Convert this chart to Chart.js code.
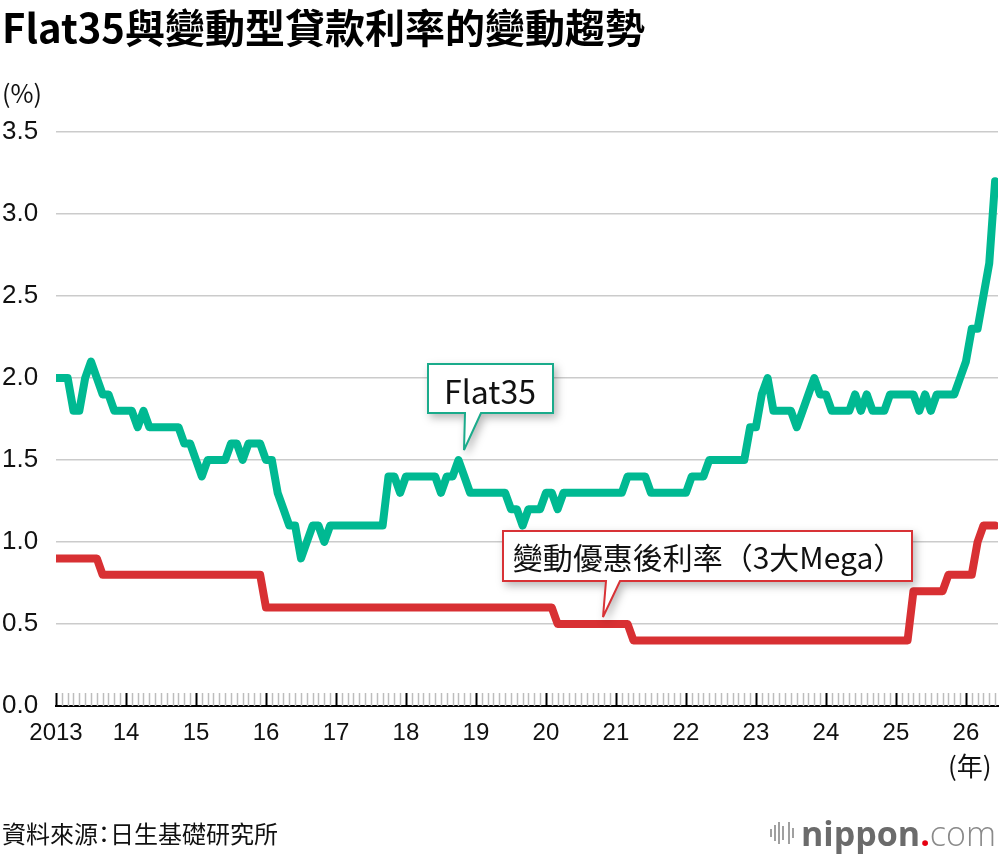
<!DOCTYPE html>
<html lang="zh-Hant">
<head>
<meta charset="UTF-8">
<title>Flat35與變動型貸款利率的變動趨勢</title>
<style>
  body { margin: 0; background: #fff; }
  #wrap { position: relative; width: 1000px; height: 856px; background: #fff; overflow: hidden; }
  #chart { position: absolute; left: 0; top: 0; }
  .txt { position: absolute; white-space: nowrap; color: #111; font-family: "Noto Sans CJK TC", "Noto Sans", sans-serif; line-height: 1; }
  .title { left: 2px; top: 6px; font-size: 40px; font-weight: 700; color: #000; }
  .unit { left: 2px; top: 80px; font-size: 25px; }
  .nen { left: 948px; top: 752px; font-size: 26px; }
  .source { left: 2px; top: 821px; font-size: 24px; font-feature-settings: "palt"; }
  .callout { position: absolute; left: 0; top: 0; filter: drop-shadow(3px 4px 4px rgba(0,0,0,0.28)); }
  .lab { position: absolute; white-space: nowrap; font-family: "Noto Sans CJK TC", "Noto Sans", sans-serif; color: #111; line-height: 1; transform: translate(-50%, -50%); }
  .logo { position: absolute; left: 768px; top: 814px; height: 38px; display: flex; align-items: center; }
  .logo span { font-family: "Open Sans", "Noto Sans", sans-serif; font-size: 34px; line-height: 1; }
</style>
</head>
<body>
<div id="wrap">
  <canvas id="chart" width="1000" height="856"></canvas>
  <div class="txt title">Flat35與變動型貸款利率的變動趨勢</div>
  <div class="txt unit">(%)</div>
  <div class="txt nen">(年)</div>

  <svg class="callout" width="1000" height="856">
    <path d="M428,364 H553 V413 H481 L464,450 L465,413 H428 Z" fill="#fff" stroke="#1aab8b" stroke-width="2"/>
    <path d="M503,531 H912 V581 H620 L603,617 L606,581 H503 Z" fill="#fff" stroke="#d83236" stroke-width="2"/>
  </svg>
  <div class="lab" style="left:490px; top:390px; font-size:32px;">Flat35</div>
  <div class="lab" style="left:708px; top:556px; font-size:30px;">變動優惠後利率（3大Mega）</div>

  <div class="txt source">資料來源：日生基礎研究所</div>
  <div class="logo">
    <svg width="30" height="28" style="margin-right:3px">
      <g fill="#a0a0a0">
        <rect x="2" y="10" width="2" height="8"/>
        <rect x="6" y="6" width="2" height="16"/>
        <rect x="10" y="3" width="2" height="22"/>
        <rect x="14" y="7" width="2" height="14"/>
        <rect x="20" y="3" width="2" height="22"/>
        <rect x="24" y="9" width="2" height="10"/>
      </g>
    </svg>
    <span style="font-weight:700; color:#6b6b6b;">nippon</span><span style="font-weight:700; color:#e60012;">.</span><span style="font-weight:300; color:#8a8a8a;">com</span>
  </div>
</div>

<script src="https://cdn.jsdelivr.net/npm/chart.js@4.4.1/dist/chart.umd.min.js"></script>
<script>
  // 年份刻度 (每12個月一格)
  const yearLabels = ['2013', '14', '15', '16', '17', '18', '19', '20', '21', '22', '23', '24', '25', '26'];

  // Flat35 月次 2013/1 ~ 2026/6
  const flat35 = [
    2.0, 2.0, 2.0, 1.8, 1.8, 2.0, 2.1, 2.0, 1.9, 1.9, 1.8, 1.8, // 2013
    1.8, 1.8, 1.7, 1.8, 1.7, 1.7, 1.7, 1.7, 1.7, 1.7, 1.6, 1.6, // 2014
    1.5, 1.4, 1.5, 1.5, 1.5, 1.5, 1.6, 1.6, 1.5, 1.6, 1.6, 1.6, // 2015
    1.5, 1.5, 1.3, 1.2, 1.1, 1.1, 0.9, 1.0, 1.1, 1.1, 1.0, 1.1, // 2016
    1.1, 1.1, 1.1, 1.1, 1.1, 1.1, 1.1, 1.1, 1.1, 1.4, 1.4, 1.3, // 2017
    1.4, 1.4, 1.4, 1.4, 1.4, 1.4, 1.3, 1.4, 1.4, 1.5, 1.4, 1.3, // 2018
    1.3, 1.3, 1.3, 1.3, 1.3, 1.3, 1.2, 1.2, 1.1, 1.2, 1.2, 1.2, // 2019
    1.3, 1.3, 1.2, 1.3, 1.3, 1.3, 1.3, 1.3, 1.3, 1.3, 1.3, 1.3, // 2020
    1.3, 1.3, 1.4, 1.4, 1.4, 1.4, 1.3, 1.3, 1.3, 1.3, 1.3, 1.3, // 2021
    1.3, 1.4, 1.4, 1.4, 1.5, 1.5, 1.5, 1.5, 1.5, 1.5, 1.5, 1.7, // 2022
    1.7, 1.9, 2.0, 1.8, 1.8, 1.8, 1.8, 1.7, 1.8, 1.9, 2.0, 1.9, // 2023
    1.9, 1.8, 1.8, 1.8, 1.8, 1.9, 1.8, 1.9, 1.8, 1.8, 1.8, 1.9, // 2024
    1.9, 1.9, 1.9, 1.9, 1.8, 1.9, 1.8, 1.9, 1.9, 1.9, 1.9, 2.0, // 2025
    2.1, 2.3, 2.3, 2.5, 2.7, 3.2                                // 2026
  ];

  // 變動優惠後利率 (3大Mega)
  const variableRate = [
    0.9, 0.9, 0.9, 0.9, 0.9, 0.9, 0.9, 0.9, 0.8, 0.8, 0.8, 0.8, // 2013
    0.8, 0.8, 0.8, 0.8, 0.8, 0.8, 0.8, 0.8, 0.8, 0.8, 0.8, 0.8, // 2014
    0.8, 0.8, 0.8, 0.8, 0.8, 0.8, 0.8, 0.8, 0.8, 0.8, 0.8, 0.8, // 2015
    0.6, 0.6, 0.6, 0.6, 0.6, 0.6, 0.6, 0.6, 0.6, 0.6, 0.6, 0.6, // 2016
    0.6, 0.6, 0.6, 0.6, 0.6, 0.6, 0.6, 0.6, 0.6, 0.6, 0.6, 0.6, // 2017
    0.6, 0.6, 0.6, 0.6, 0.6, 0.6, 0.6, 0.6, 0.6, 0.6, 0.6, 0.6, // 2018
    0.6, 0.6, 0.6, 0.6, 0.6, 0.6, 0.6, 0.6, 0.6, 0.6, 0.6, 0.6, // 2019
    0.6, 0.6, 0.5, 0.5, 0.5, 0.5, 0.5, 0.5, 0.5, 0.5, 0.5, 0.5, // 2020
    0.5, 0.5, 0.5, 0.4, 0.4, 0.4, 0.4, 0.4, 0.4, 0.4, 0.4, 0.4, // 2021
    0.4, 0.4, 0.4, 0.4, 0.4, 0.4, 0.4, 0.4, 0.4, 0.4, 0.4, 0.4, // 2022
    0.4, 0.4, 0.4, 0.4, 0.4, 0.4, 0.4, 0.4, 0.4, 0.4, 0.4, 0.4, // 2023
    0.4, 0.4, 0.4, 0.4, 0.4, 0.4, 0.4, 0.4, 0.4, 0.4, 0.4, 0.4, // 2024
    0.4, 0.4, 0.4, 0.7, 0.7, 0.7, 0.7, 0.7, 0.7, 0.8, 0.8, 0.8, // 2025
    0.8, 0.8, 1.0, 1.1, 1.1, 1.1                                // 2026
  ];

  const GREEN = '#00b992';
  const RED = '#d83033';

  // 月刻度畫在軸線上方 (黑=年, 灰=月)
  const monthTicks = {
    id: 'monthTicks',
    beforeDatasetsDraw(chart) {
      const { ctx, scales: { x, y } } = chart;
      const base = y.getPixelForValue(0);
      ctx.save();
      for (let i = 0; i < flat35.length; i++) {
        const px = Math.round(x.getPixelForValue(i)) + 0.5;
        const major = i % 12 === 0;
        ctx.beginPath();
        ctx.strokeStyle = major ? '#000' : '#bdbdbd';
        ctx.lineWidth = major ? 2 : 1.5;
        ctx.moveTo(px, base);
        ctx.lineTo(px, base - 13);
        ctx.stroke();
      }
      ctx.restore();
    }
  };

  const pts = arr => arr.map((v, i) => ({ x: i, y: v }));

  new Chart(document.getElementById('chart'), {
    type: 'line',
    data: {
      datasets: [
        {
          label: '變動優惠後利率（3大Mega）',
          data: pts(variableRate),
          borderColor: RED,
          borderWidth: 8,
          pointRadius: 0,
          tension: 0,
          borderJoinStyle: 'round',
          borderCapStyle: 'round'
        },
        {
          label: 'Flat35',
          data: pts(flat35),
          borderColor: GREEN,
          borderWidth: 8,
          pointRadius: 0,
          tension: 0,
          borderJoinStyle: 'round',
          borderCapStyle: 'round'
        }
      ]
    },
    options: {
      responsive: false,
      animation: false,
      devicePixelRatio: 1,
      layout: { padding: { top: 132, left: 2, right: 2, bottom: 110 } },
      plugins: { legend: { display: false }, tooltip: { enabled: false } },
      scales: {
        x: {
          type: 'linear',
          min: 0,
          max: 161.5,
          afterFit: s => { s.height = 40; s.paddingLeft = 0; s.paddingRight = 0; },
          grid: { display: true, drawOnChartArea: false, drawTicks: false },
          border: { display: true, color: '#000', width: 2 },
          ticks: {
            stepSize: 12,
            includeBounds: false,
            autoSkip: false,
            maxRotation: 0,
            padding: 13,
            color: '#111',
            font: { family: '"Liberation Sans", Arial, sans-serif', size: 24 },
            callback: v => (v % 12 === 0 ? yearLabels[v / 12] : '')
          }
        },
        y: {
          min: 0,
          max: 3.5,
          afterFit: s => { s.width = 54; },
          grid: { color: '#cbcbcb', lineWidth: 1.5, drawTicks: false },
          border: { display: false },
          ticks: {
            stepSize: 0.5,
            crossAlign: 'far',
            padding: 0,
            color: '#111',
            font: { family: '"Liberation Sans", Arial, sans-serif', size: 26 },
            callback: v => v.toFixed(1)
          }
        }
      }
    },
    plugins: [monthTicks]
  });
</script>
</body>
</html>
